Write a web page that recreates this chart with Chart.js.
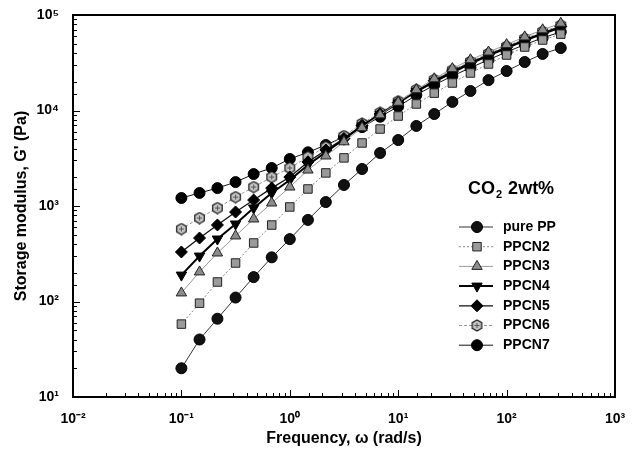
<!DOCTYPE html>
<html>
<head>
<meta charset="utf-8">
<script src="https://cdn.jsdelivr.net/npm/chart.js@4"></script>
<style>
  html, body { margin: 0; padding: 0; background: #fff; }
  #wrap { width: 638px; height: 462px; }
</style>
</head>
<body>
<div id="wrap"><canvas id="chart" width="638" height="462"></canvas></div>
<script>
// Storage modulus G' vs frequency, CO2 2wt%, log-log
const freq = [0.1, 0.147, 0.215, 0.316, 0.464, 0.681, 1, 1.47, 2.15, 3.16, 4.64, 6.81,
              10, 14.7, 21.5, 31.6, 46.4, 68.1, 100, 147, 215, 316];

const purePP = [20, 40, 66, 110, 180, 290, 450, 715, 1100, 1660, 2440, 3590,
                4910, 6890, 9190, 12300, 16000, 20800, 25900, 32200, 39100, 45100];
const ppcn2 = [58, 96, 160, 253, 410, 632, 977, 1507, 2220, 3190, 4570, 6400,
               8750, 11700, 15200, 19400, 24700, 30700, 38100, 46200, 54700, 63000];
const ppcn3 = [123, 204, 322, 486, 731, 1075, 1580, 2380, 3340, 4700, 6600, 9000,
               12200, 16500, 21500, 27500, 34000, 41000, 49000, 59000, 70000, 82000];
const ppcn4 = [189, 299, 451, 648, 953, 1370, 1870, 2690, 3670, 5000, 6900, 9100,
               12000, 15800, 20000, 25000, 31000, 37500, 45000, 54000, 63500, 74000];
const ppcn5 = [330, 462, 633, 865, 1155, 1540, 2010, 2890, 3860, 5100, 7000, 9200,
               12100, 16000, 20500, 25800, 31800, 38500, 46000, 55000, 65000, 76000];
const ppcn6 = [574, 748, 952, 1240, 1580, 2010, 2500, 3260, 4150, 5400, 7300, 9500,
               12500, 16500, 21000, 26500, 32500, 39500, 47000, 56500, 67000, 78000];
const ppcn7 = [1213, 1370, 1540, 1780, 2160, 2500, 3110, 3650, 4350, 5300, 6700, 8600,
               11000, 14500, 18500, 23000, 28000, 34000, 41000, 49000, 57500, 66500];

const xTickLabels = { '-2': '10⁻²', '-1': '10⁻¹', '0': '10⁰', '1': '10¹', '2': '10²', '3': '10³' };
const yTickLabels = { '1': '10¹', '2': '10²', '3': '10³', '4': '10⁴', '5': '10⁵' };

const FONT = '"Liberation Sans", Arial, sans-serif';

function decadeOf(v) {
    const e = Math.log10(v);
    return Math.abs(e - Math.round(e)) < 1e-6 ? Math.round(e) : null;
}

// hexagon marker for PPCN6
function hexMarker() {
    const c = document.createElement('canvas');
    c.width = 13; c.height = 13;
    const g = c.getContext('2d');
    g.beginPath();
    for (let i = 0; i < 6; i++) {
        const a = Math.PI / 6 + i * Math.PI / 3;
        const px = 6.5 + 5.5 * Math.cos(a), py = 6.5 + 5.5 * Math.sin(a);
        i ? g.lineTo(px, py) : g.moveTo(px, py);
    }
    g.closePath();
    g.fillStyle = '#c4c4c4';
    g.fill();
    g.lineWidth = 1.3;
    g.strokeStyle = '#222';
    g.stroke();
    g.fillStyle = '#555';
    g.fillRect(6, 4, 1, 5);
    g.fillRect(4, 6, 5, 1);
    return c;
}

function pts(vals) {
    return vals.map((v, i) => ({ x: freq[i], y: v }));
}

const series = [
    { label: 'pure PP', data: purePP, pointStyle: 'circle', radius: 5.5, fill: '#111', border: '#000', line: '#333', width: 1, dash: [] },
    { label: 'PPCN2', data: ppcn2, pointStyle: 'rect', radius: 6, fill: '#9a9a9a', border: '#222', line: '#888', width: 1, dash: [2, 2] },
    { label: 'PPCN3', data: ppcn3, pointStyle: 'triangle', radius: 6, fill: '#8c8c8c', border: '#222', line: '#999', width: 1, dash: [] },
    { label: 'PPCN4', data: ppcn4, pointStyle: 'triangle', rotation: 180, radius: 6, fill: '#000', border: '#000', line: '#000', width: 2, dash: [] },
    { label: 'PPCN5', data: ppcn5, pointStyle: 'rectRot', radius: 6, fill: '#000', border: '#000', line: '#111', width: 1.3, dash: [] },
    { label: 'PPCN6', data: ppcn6, pointStyle: hexMarker(), radius: 6, fill: '#c4c4c4', border: '#222', line: '#999', width: 1, dash: [3, 2] },
    { label: 'PPCN7', data: ppcn7, pointStyle: 'circle', radius: 5.5, fill: '#000', border: '#000', line: '#111', width: 1, dash: [] },
];

const datasets = series.map(s => ({
    label: s.label,
    data: pts(s.data),
    borderColor: s.line,
    borderWidth: s.width,
    borderDash: s.dash,
    pointStyle: s.pointStyle,
    rotation: s.rotation || 0,
    pointRadius: s.radius,
    pointBackgroundColor: s.fill,
    pointBorderColor: s.border,
    pointBorderWidth: 1,
    tension: 0,
    fill: false,
}));

// frame, inward ticks on left/bottom
const framePlugin = {
    id: 'frame',
    afterDraw(chart) {
        const { ctx, chartArea: a, scales: { x, y } } = chart;
        ctx.save();
        ctx.strokeStyle = '#000';
        ctx.lineWidth = 1;
        for (const t of x.ticks) {
            const px = Math.round(x.getPixelForValue(t.value)) + 0.5;
            const len = decadeOf(t.value) !== null ? 7 : 4;
            ctx.beginPath(); ctx.moveTo(px, a.bottom); ctx.lineTo(px, a.bottom - len); ctx.stroke();
        }
        for (const t of y.ticks) {
            const py = Math.round(y.getPixelForValue(t.value)) + 0.5;
            const len = decadeOf(t.value) !== null ? 7 : 4;
            ctx.beginPath(); ctx.moveTo(a.left, py); ctx.lineTo(a.left + len, py); ctx.stroke();
        }
        ctx.lineWidth = 2;
        ctx.strokeRect(a.left, a.top, a.right - a.left, a.bottom - a.top);
        ctx.restore();
    }
};

// legend block inside the plot, with CO2 heading
const legendPlugin = {
    id: 'boxLegend',
    afterDraw(chart) {
        const { ctx, chartArea: a } = chart;
        ctx.save();
        ctx.fillStyle = '#000';
        ctx.textBaseline = 'middle';
        const hx = a.right - 147, hy = a.top + 174;
        ctx.font = 'bold 18px ' + FONT;
        ctx.fillText('CO', hx, hy);
        let w = ctx.measureText('CO').width;
        ctx.font = 'bold 11px ' + FONT;
        ctx.fillText('2', hx + w + 1, hy + 6);
        w += ctx.measureText('2').width + 1;
        ctx.font = 'bold 18px ' + FONT;
        ctx.fillText(' 2wt%', hx + w + 1, hy);

        const lx0 = a.right - 156, lx1 = a.right - 122, mx = a.right - 138, tx = a.right - 112;
        let ly = a.top + 212;
        chart.data.datasets.forEach(ds => {
            ctx.strokeStyle = ds.borderColor;
            ctx.lineWidth = ds.borderWidth;
            ctx.setLineDash(ds.borderDash);
            ctx.beginPath(); ctx.moveTo(lx0, ly); ctx.lineTo(lx1, ly); ctx.stroke();
            ctx.setLineDash([]);
            ctx.fillStyle = ds.pointBackgroundColor;
            ctx.strokeStyle = ds.pointBorderColor;
            ctx.lineWidth = 1;
            Chart.helpers.drawPoint(ctx, { pointStyle: ds.pointStyle, rotation: ds.rotation, radius: ds.pointRadius, borderWidth: 1 }, mx, ly);
            ctx.fillStyle = '#000';
            ctx.font = 'bold 14px ' + FONT;
            ctx.fillText(ds.label, tx, ly);
            ly += 19.7;
        });
        ctx.restore();
    }
};

new Chart(document.getElementById('chart'), {
    type: 'line',
    data: { datasets },
    options: {
        responsive: false,
        animation: false,
        layout: { padding: { top: 15, right: 23, left: 0, bottom: 0 } },
        plugins: { legend: { display: false }, tooltip: { enabled: false } },
        scales: {
            x: {
                type: 'logarithmic',
                min: 0.01, max: 1000,
                afterFit: s => { s.height = 65; },
                grid: { display: false },
                border: { display: false },
                ticks: {
                    autoSkip: false, maxRotation: 0, padding: 6, color: '#000',
                    font: { family: FONT, size: 14, weight: 'bold' },
                    callback: v => { const d = decadeOf(v); return d === null ? '' : xTickLabels[d]; }
                },
                title: {
                    display: true, text: 'Frequency, ω (rad/s)', color: '#000',
                    font: { family: FONT, size: 16, weight: 'bold' },
                    padding: { top: 0, bottom: 14 }
                }
            },
            y: {
                type: 'logarithmic',
                min: 10, max: 100000,
                afterFit: s => { s.width = 73; },
                grid: { display: false },
                border: { display: false },
                ticks: {
                    autoSkip: false, padding: 6, color: '#000',
                    font: { family: FONT, size: 14, weight: 'bold' },
                    callback: v => { const d = decadeOf(v); return d === null ? '' : yTickLabels[d]; }
                },
                title: {
                    display: true, text: "Storage modulus, G' (Pa)", color: '#000',
                    font: { family: FONT, size: 16, weight: 'bold' },
                    padding: { top: 12, bottom: 0 }
                }
            }
        }
    },
    plugins: [framePlugin, legendPlugin]
});
</script>
</body>
</html>
